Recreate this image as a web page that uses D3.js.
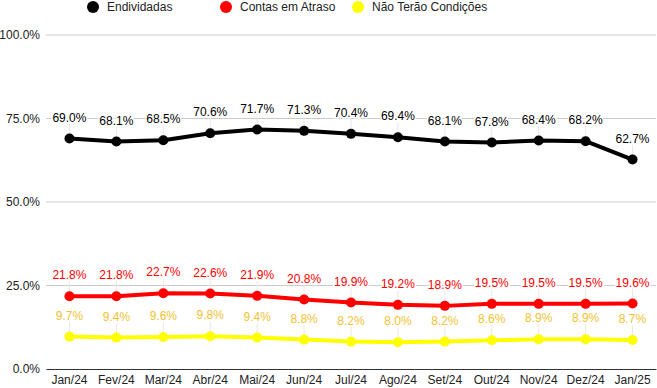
<!DOCTYPE html>
<html>
<head>
<meta charset="utf-8">
<script src="https://cdn.jsdelivr.net/npm/d3@7"></script>
<style>
  body { margin: 0; background: #fff; }
  text { font-family: "Liberation Sans", Arial, sans-serif; }
</style>
</head>
<body>
<div id="chart"></div>
<script>
// months on the x axis
var months = ["Jan/24", "Fev/24", "Mar/24", "Abr/24", "Mai/24", "Jun/24", "Jul/24",
              "Ago/24", "Set/24", "Out/24", "Nov/24", "Dez/24", "Jan/25"];
var endividadas = [69.0, 68.1, 68.5, 70.6, 71.7, 71.3, 70.4, 69.4, 68.1, 67.8, 68.4, 68.2, 62.7];
var contasAtraso = [21.8, 21.8, 22.7, 22.6, 21.9, 20.8, 19.9, 19.2, 18.9, 19.5, 19.5, 19.5, 19.6];
var naoTerao = [9.7, 9.4, 9.6, 9.8, 9.4, 8.8, 8.2, 8.0, 8.2, 8.6, 8.9, 8.9, 8.7];
var yTicks = [0, 25, 50, 75, 100];

var series = [
  {name: "Endividadas", values: endividadas, color: "#000000", label: "#000000"},
  {name: "Contas em Atraso", values: contasAtraso, color: "#ff0000", label: "#ff0000"},
  {name: "Não Terão Condições", values: naoTerao, color: "#ffff00", label: "#f1c232"}
];

var W = 657, H = 388;
var margin = {top: 35, right: 1, bottom: 19, left: 46},
    width = W - margin.left - margin.right,
    height = H - margin.top - margin.bottom;

var svg = d3.select("#chart").append("svg")
    .attr("width", W)
    .attr("height", H);

var g = svg.append("g")
    .attr("transform", "translate(" + margin.left + "," + margin.top + ")");

var x = d3.scaleBand()
    .domain(months)
    .range([0, width]);

var y = d3.scaleLinear()
    .domain([0, 100])
    .range([height, 0]);

// gridlines
g.selectAll(".grid")
    .data(yTicks.filter(function(d) { return d > 0; }))
  .enter().append("line")
    .attr("x1", 0).attr("x2", width)
    .attr("y1", function(d) { return y(d); })
    .attr("y2", function(d) { return y(d); })
    .attr("stroke", "#cccccc")
    .attr("stroke-width", 1);

// y axis labels
var yAxis = g.append("g")
    .call(d3.axisLeft(y).tickValues(yTicks).tickSize(0).tickPadding(6)
        .tickFormat(function(d) { return d.toFixed(1) + "%"; }));
yAxis.select(".domain").remove();
yAxis.selectAll("text").attr("font-size", 12).attr("fill", "#222")
    .style("font-family", "'Liberation Sans', Arial, sans-serif");

// x axis
var xAxis = g.append("g")
    .attr("transform", "translate(0," + height + ")")
    .call(d3.axisBottom(x).tickSize(0).tickPadding(6));
xAxis.select(".domain").attr("stroke", "#333333");
xAxis.selectAll("text").attr("font-size", 12).attr("fill", "#222")
    .style("font-family", "'Liberation Sans', Arial, sans-serif");

var cx = function(i) { return x(months[i]) + x.bandwidth() / 2; };
var labelOffset = 21;

series.forEach(function(s) {
  // leader lines from label to point
  g.selectAll(null)
      .data(s.values)
    .enter().append("line")
      .attr("x1", function(d, i) { return cx(i); })
      .attr("x2", function(d, i) { return cx(i); })
      .attr("y1", function(d) { return y(d) - labelOffset + 6; })
      .attr("y2", function(d) { return y(d); })
      .attr("stroke", "#e8e8e8")
      .attr("stroke-width", 1);
});

series.forEach(function(s) {
  var line = d3.line()
      .x(function(d, i) { return cx(i); })
      .y(function(d) { return y(d); });

  g.append("path")
      .datum(s.values)
      .attr("fill", "none")
      .attr("stroke", s.color)
      .attr("stroke-width", 4)
      .attr("stroke-linejoin", "round")
      .attr("d", line);

  g.selectAll(null)
      .data(s.values)
    .enter().append("circle")
      .attr("cx", function(d, i) { return cx(i); })
      .attr("cy", function(d) { return y(d); })
      .attr("r", 5)
      .attr("fill", s.color);

  g.selectAll(null)
      .data(s.values)
    .enter().append("text")
      .attr("x", function(d, i) { return cx(i); })
      .attr("y", function(d) { return y(d) - labelOffset; })
      .attr("dy", "0.35em")
      .attr("text-anchor", "middle")
      .attr("font-size", 12)
      .attr("fill", s.label)
      .attr("stroke", "#fff")
      .attr("stroke-width", 3)
      .attr("paint-order", "stroke")
      .text(function(d) { return d.toFixed(1) + "%"; });
});

// legend
var legendX = [93, 226, 358];
var legend = svg.append("g");
series.forEach(function(s, i) {
  legend.append("circle")
      .attr("cx", legendX[i])
      .attr("cy", 7)
      .attr("r", 6)
      .attr("fill", s.color);
  legend.append("text")
      .attr("x", legendX[i] + 14)
      .attr("y", 7)
      .attr("dy", "0.35em")
      .attr("font-size", 12)
      .attr("fill", "#222")
      .text(s.name);
});
</script>
</body>
</html>
